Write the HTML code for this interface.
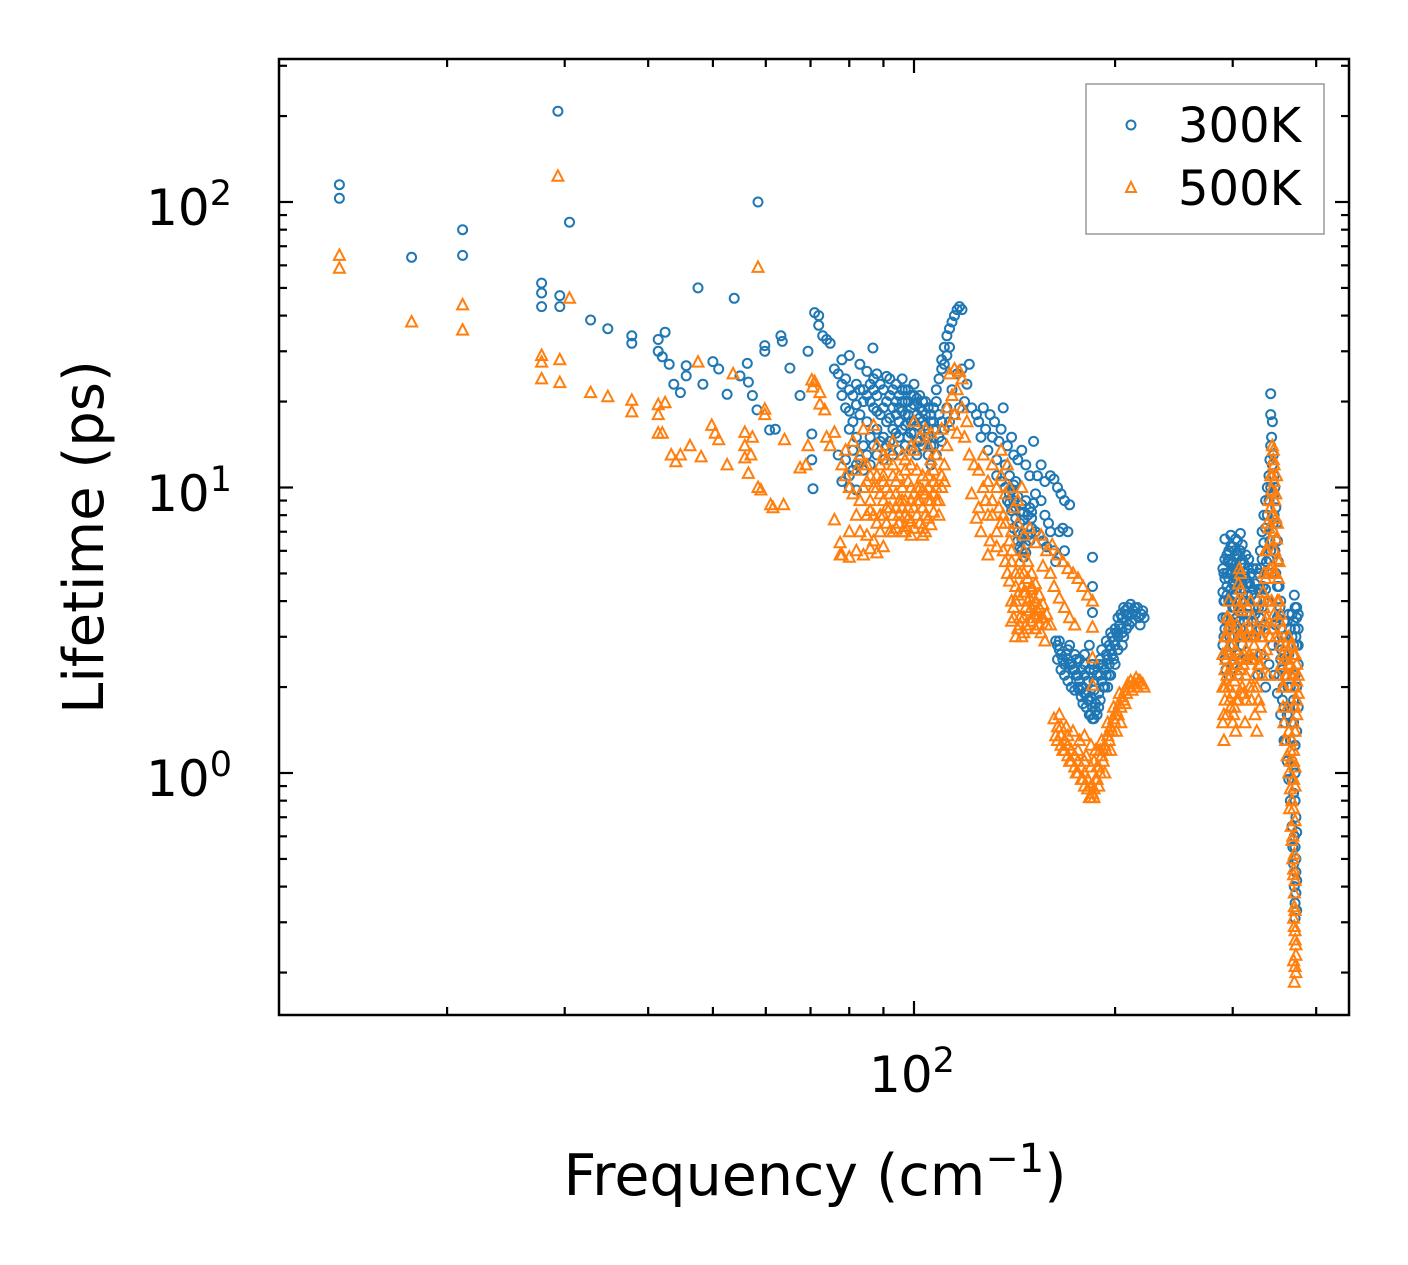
<!DOCTYPE html>
<html><head><meta charset="utf-8"><style>
html,body{margin:0;padding:0;background:#fff;}
svg{display:block;font-family:"DejaVu Sans","Liberation Sans",sans-serif;}
</style></head><body>
<svg id="chart" width="1408" height="1265" viewBox="0 0 1408 1265" xmlns="http://www.w3.org/2000/svg">
<rect x="0" y="0" width="1408" height="1265" fill="#fff"/>
<g id="marks"></g>
<g id="ticks"></g>
<rect x="279" y="59" width="1070" height="956" fill="none" stroke="#000" stroke-width="2.5"/>
<text x="232" y="225" font-size="50" text-anchor="end">10<tspan dy="-20" font-size="35">2</tspan></text>
<text x="232" y="511" font-size="50" text-anchor="end">10<tspan dy="-20" font-size="35">1</tspan></text>
<text x="232" y="796" font-size="50" text-anchor="end">10<tspan dy="-20" font-size="35">0</tspan></text>
<text x="912" y="1092" font-size="50" text-anchor="middle">10<tspan dy="-20" font-size="35">2</tspan></text>
<text x="0" y="0" font-size="56" text-anchor="middle" transform="translate(103,537) rotate(-90)">Lifetime (ps)</text>
<text x="815" y="1195" font-size="57" text-anchor="middle">Frequency (cm<tspan dy="-23" font-size="40">−1</tspan><tspan dy="23">)</tspan></text>
<g>
<rect x="1086" y="84" width="238" height="150" fill="#fff" stroke="#999" stroke-width="1.5"/>
<circle cx="1131" cy="125" r="4.5" fill="none" stroke="#1f77b4" stroke-width="2"/>
<text x="1178" y="142" font-size="48">300K</text>
<path d="M1131,182 L1136,192 L1126,192 Z" fill="none" stroke="#ff7f0e" stroke-width="2"/>
<text x="1178" y="205" font-size="48">500K</text>
</g>
</svg>
<script>
const s300 = [[13.8,115],[13.8,103],[17.7,64],[21.1,80],[21.1,65],[27.7,52],[27.7,48],[27.7,43],[29.3,208],[29.5,47],[29.5,43],[30.5,85],[32.8,38.6],[34.8,36],[37.8,34],[37.8,32],[41.4,33],[41.4,30],[42.4,35],[42,28.7],[43,27],[43.7,23],[44.7,21.5],[45.6,24.6],[45.6,26.7],[47.5,50],[48.3,23],[50,27.6],[51,26],[52.5,21.2],[53.8,46],[54.9,24.6],[56.3,27.2],[56.5,23.4],[57.3,21],[58.2,18.7],[59.8,31.4],[59.8,30],[58.4,100],[60.8,15.9],[62,16],[63.2,34],[63.5,32.5],[65.2,26.2],[67.5,21],[69.4,30],[71,41],[72,37],[73,34],[70.3,15.4],[70.3,12.5],[70.6,9.9],[72,40],[74,33],[74.9,32],
[76,26],[77,25],[78,23],[79,24],[80,22],[81,21],[82,23],[83,22],[84,20],[85,21],[86,23],[87,22],[88,21],[89,23],[90,22],[91,20],[92,24],[93,22],[94,23],[95,21],[96,24],[97,22],[98,20],[99,19],[100,21],[101,18],[102,19],[103,17],[104,18],[105,16],[106,17],[100,23],[97,18],[95,17],[93,19],[91,17],[89,18],[87,19],[85,17],[83,18],[81,17],[79,19],[80,16],[82,15],[84,14],[86,15],[88,16],[90,15],[92,14.5],[94,15.5],[96,16],[98,15],[100,15.5],[102,14.5],[104,15],[106,14],[103,20],[99,17],[101,16.5],[97,14],[95,13.5],[93,13],[90,12.5],[88,13],[86,12],[84,11.5],[82,12],[80,11],[78,10.5],[80,10],[82,9.8],[79,12.5],[77,13],[81,13.5],[86.8,30.8],[78,28],[80,29],[83,27],[85,25.5],[88,25],[91,24.5],[87,24],
[108,22],[109,24],[110,26],[110,28],[111,31],[112,34],[113,36],[114,38],[115,40],[116,42],[117,43],[118,42],[112,29],[111,27],[113,31],[108,20],[107,19],[109,18],[110,17],[112,19],[114,22],[116,25],[118,26],[120,23],[121,27],[119,20],[117,19],[115,18],[113,17],[111,16],[109,15],[107,14],[105,13],[110,14.5],[108,13],[106,12],
[122,19],[124,18],[125,17],[127,19],[128,16],[130,18],[131,15],[132,17],[134,14.5],[135,16],[136,19],[138,14],[140,15],[141,13],[143,12.5],[145,13.5],[147,12],[149,11],[151,14.5],[153,11],[155,12],[157,10.5],[160,11],[162,10.7],[164,10],[166,9.5],[168,9],[171,8.7],[126,15],[129,13.5],[133,12.5],[137,12],[139,11],[142,10.5],
[137,10],[139,9.5],[141,9],[143,9.3],[145,8.7],[147,9],[149,8.5],[151,8.8],[140,8.3],[142,7.8],[144,7.5],[146,7.7],[148,7.3],[150,7.8],[143,7],[145,6.6],[147,6.3],[145,6],[146,5.7],[152,7],[154,6.8],[156,6.5],[158,6.2],[160,7],[162,6],[163,5.5],[165,7],[167,7.2],[168,6],[170,7],[185,5.7],[185,4.5],[185,3.65],
[163,2.9],[165,2.7],[167,2.5],[169,2.6],[171,2.4],[173,2.3],[175,2.2],[177,2.1],[179,2.0],[181,1.9],[183,1.8],[185,1.7],[187,1.75],[189,1.9],[191,2.1],[193,2.3],[195,2.5],[197,2.7],[199,2.9],[201,3.1],[203,3.3],[205,3.5],[207,3.7],[209,3.8],[211,3.9],[213,3.7],[215,3.6],[217,3.5],[219,3.6],[221,3.5],[164,2.5],[166,2.3],[168,2.2],[170,2.1],[172,2.0],[174,1.95],[176,2.2],[178,2.3],[180,2.2],[182,2.1],[184,1.6],[186,1.55],[188,1.6],[190,1.8],[192,2.0],[194,2.2],[196,2.4],[198,2.6],[200,2.8],[202,3.0],[204,3.2],[206,3.0],[208,3.4],[210,3.6],[212,3.4],[214,3.8],[205,2.8],[200,2.4],[195,2.0],[190,2.5],[185,2.4],[180,2.6],[175,2.5],[170,2.7],[165,2.9],[183,2.8],[178,1.85],[186,1.95],[197,2.2],[208,3.2],
[291,3],[291,4],[291,5],[292,2.5],[293,3.5],[294,4.5],[295,5.5],[296,6],[297,3],[298,4],[299,5],[300,6.2],[301,2.8],[302,3.8],[303,4.8],[304,5.8],[305,6.5],[306,2.6],[307,3.4],[308,4.4],[309,5.4],[310,6.3],[311,3],[312,4],[313,5],[314,5.8],[315,3.6],[316,4.6],[317,5.6],[318,3.2],[320,4.2],[322,5.2],[293,2.3],[296,2.2],[300,2.4],[305,2.2],[310,2.5],[292,6.6],[298,6.8],[303,6.6],[308,6.9],
[325,3],[326,4],[328,5],[330,6],[332,7],[334,8],[336,9],[338,10],[340,11],[341,12.5],[342,14],[343,15],[344,17],[342,18],[342,21.3],[345,13],[346,11],[347,10],[348,8.5],[349,7.5],[350,6.5],[351,5.5],[352,4.5],[353,3.8],[354,3.2],[355,2.7],[356,2.3],[357,2],[358,1.7],[359,1.5],[360,1.3],[362,1.1],[364,0.95],[366,0.8],[368,0.65],[369,0.55],[370,0.48],[371,0.4],[372,0.35],[372,0.31],[323,2.5],[327,2.2],[331,2.6],[335,3.3],[339,4],[343,5],[347,6],[329,3.5],[333,4.5],[337,5.5],[341,6.5],[345,7.5],[336,2],[340,2.4],[344,2.8],[348,3.3],[352,2.2],[356,1.8],[360,2.2],[364,2.6],[368,3],[370,3.4],[372,3.8],[374,3.5],[376,3.2],[374,2.8],[376,2.4],[374,2],[376,1.7],[370,1.5],[366,1.3],[368,1.1],[372,1.0],[370,0.85],[373,0.7],[371,0.6],[373,0.5],[374,0.42],[362,1.6],[366,2],[358,1.3],[354,1.6],[350,1.9],[346,2.2],[371,4.2],[373,3.0]];

const s300Dense = [[95,19],[96,18.5],[97,20],[98,18],[99,21],[100,19.5],[101,20.5],[102,17.5],[103,18.5],[104,16.5],[105,19],[106,18],[107,16],[96,20],[98,22],[100,17],[102,21],[104,20],[94,18],[92,17.5],[90,19],[88,18.5],[86,20],[84,22],[82,19.5],[80,18.5],[78,21],[93,16],[91,14],[89,14.5],[87,14],[85,13],[83,12.5],[81,11.5],[99,13.5],[101,13],[103,14],[105,15],[107,17],[92,21],[94,20],[96,22],[97,16.5],[99,15.5],[101,14.5],[95,15],
[138,9],[140,9.8],[142,8.5],[144,8.2],[146,8.2],[148,8],[150,8.2],[141,7.2],[143,6.5],[144,6.2],[146,6.9],[148,6.8],[149,6.5],[147,5.9],[150,7.2],[139,8.8],[141,10.2],[135,10.5],[133,11],[152,9.5],[155,9],[157,8],[159,7.5],
[164,2.8],[166,2.6],[168,2.4],[170,2.5],[172,2.4],[174,2.3],[176,2.0],[178,2.0],[180,1.9],[182,1.8],[184,1.85],[186,2.1],[188,2.2],[190,2.2],[192,2.4],[194,2.6],[196,2.8],[198,3.0],[200,3.2],[202,3.5],[204,3.6],[206,3.8],[208,3.6],[210,3.3],[212,3.6],[216,3.8],[218,3.3],[220,3.7],[181,1.7],[183,1.6],[185,1.55],[187,1.65],[189,1.7],[179,1.75],[177,1.95],[193,2.0],[196,2.2],[199,2.5],[202,2.7],[205,3.1],[171,2.8],[174,2.6],[177,2.5],[180,2.4],[183,2.3],[186,2.3],[189,2.4],[191,2.7],[194,2.9],[197,3.1],
[290,2.8],[290,3.5],[290,4.3],[290,5.2],[292,3.2],[292,4],[292,4.8],[292,5.6],[294,2.6],[294,3.4],[294,4.2],[294,5],[294,5.8],[296,3.2],[296,4],[296,4.8],[296,5.6],[298,2.6],[298,3.4],[298,4.4],[298,5.4],[298,6.2],[300,3],[300,3.8],[300,4.6],[300,5.4],[302,3.2],[302,4.2],[302,5.2],[302,6],[304,2.6],[304,3.5],[304,4.4],[304,5.2],[306,3],[306,3.8],[306,4.8],[306,5.8],[308,3.2],[308,4],[308,5],[308,6],[310,2.8],[310,3.6],[310,4.6],[310,5.6],[312,3.4],[312,4.4],[312,5.4],[314,3],[314,4],[314,4.8],[316,3.4],[316,4.2],[316,5.2],[318,3.8],[318,4.6],[320,3],[320,3.6],[320,5],[322,3.4],[322,4.4],[324,3.6],[324,4.6],[326,3.2],[326,5.2],[328,3.8],[328,4.4],[330,3.2],[330,4.4],[330,5.2],[332,3.8],[332,5.6],[334,4],[334,6.4],[336,4.4],[336,7.2],[338,5],[338,8],[340,5.6],[340,9],[342,6],[342,10],[344,7],[344,12],[346,8],[346,9.5],[348,6.5],[348,5],[350,4.5],[350,3.5],[352,3.6],[352,2.8],[354,2.5],[354,4],[356,3],[358,2.6],[358,3.4],[360,3],[362,3.4],[364,3.6],[366,3.2],[368,3.6],[370,2.8],[372,3.2],[374,3.8],[376,3.6],[376,2.8],[372,2.2],[370,1.8],[374,1.4],[372,1.25],[370,1.05],[368,0.95],[372,0.8],[374,0.62],[372,0.55],[373,0.45],[373,0.38],[374,0.33],[361,2.5],[363,2],[365,1.7],[367,1.5]];

const s500 = [[13.8,65],[13.8,58.6],[17.7,38],[21.1,43.6],[21.1,35.6],[27.7,29],[27.7,27.5],[27.7,24],[29.3,123],[29.5,28],[29.5,23.3],[30.5,46],[32.8,21.5],[34.8,20.8],[37.8,20.2],[37.8,18.4],[41.4,19.5],[41.4,18],[41.4,15.5],[42,15.5],[42.4,19.8],[43.3,13],[44,12.3],[44.7,13],[46.2,14],[47.5,27.5],[48,12.8],[49.8,16.5],[50.4,15.5],[51,14.7],[52.5,12],[53.6,25],[55.8,12.7],[55.8,15.6],[55.8,14],[56.5,11.2],[57,13],[57.3,15],[58.4,10],[59,9.8],[58.4,59],[59.8,18],[59.8,18.8],[61,8.7],[61.5,8.5],[63.8,8.7],[64,14.7],[67.5,11.7],[68.9,12],[69.4,14],[70.3,23.8],[70.5,22.5],[71,23.5],[72.3,21.5],[72.3,19.6],[73.5,18.7],[74,15],[74.9,14],[76,15.6],[76,7.7],[77.5,6.4],[77.5,5.8],
[78,12],[79,11],[80,10],[81,9.5],[82,11.5],[83,13],[84,12],[85,10.5],[86,9],[87,8],[88,7.5],[89,9.5],[90,11],[91,12.5],[92,13.5],[93,11],[94,9.5],[95,8],[96,7],[97,9],[98,10.5],[99,12],[100,13.5],[101,11.5],[102,10],[103,8.5],[104,9.5],[105,11],[106,12.5],[107,10.5],[108,9],[109,8],[110,10],[111,12],[112,14],[88,14],[90,13],[93,14.5],[96,13],[99,14],[102,15],[105,14],[108,13],[85,6.8],[87,6.5],[89,7],[91,7.5],[93,7],[95,7.5],[97,7.3],[99,7.6],[101,8],[103,7.2],[105,7.8],[107,8.2],[78,5.8],[80,5.7],[82,6],[84,5.8],[86,6.1],[88,5.9],[90,6.2],[83,7],[86,8.3],[90,9],[92,8.5],[94,10.5],[97,11.5],[100,9.5],[96,10],[91,10],[89,12],[82,8],[80,7],[79,13.5],[81,14.5],[84,16],[87,16.5],[100,17],[104,16],[106,15.5],
[113,25],[115,26],[117,25.5],[118,24],[116,22],[114,21],[112,19],[115,18],[118,19],[120,17],[110,16],[113,16.5],[116,15.5],[119,15],
[121,13],[123,12],[125,11.5],[127,13],[129,10.5],[131,12],[133,10],[135,11],[137,9.5],[139,10],[141,8.5],[143,9],[122,9.5],[125,8.5],[128,9],[131,8],[134,8.5],[137,7.5],[140,7],[143,7.5],[146,6.8],[149,7.2],[152,6.4],[155,6.8],[158,6],[161,6.3],[164,5.8],[167,5.5],[170,5.2],[173,5],[176,4.8],[179,4.5],[182,4.2],[185,4],[146,6],[148,5.5],[150,5],[152,4.6],[154,4.2],[156,3.9],[158,3.6],[160,3.3],[144,5],[142,4.5],[140,4],[141,3.5],[143,3.2],[145,3],[147,3.3],[149,3.7],[151,4.1],[153,3.5],[155,3.1],[157,2.9],[139,4.7],[146,4.3],[150,4.4],[147,3.8],[162,4.5],[165,4.1],[168,3.8],[171,3.5],[174,3.3],[160,5],[156,5.3],[126,7],[130,6.5],[133,6.2],[136,6],[129,5.8],[124,7.8],[127,10],[135,13.5],[138,12],[145,10],[185,3.24],[185,2.53],[185,2.03],
[162,1.55],[164,1.45],[166,1.35],[168,1.3],[170,1.25],[172,1.2],[174,1.15],[176,1.1],[178,1.05],[180,1.0],[182,0.95],[184,0.9],[186,0.88],[183,0.82],[185,0.85],[187,0.95],[189,1.05],[191,1.15],[193,1.25],[195,1.35],[197,1.45],[199,1.55],[201,1.65],[203,1.75],[205,1.85],[207,1.95],[209,2.05],[211,2.1],[213,2.05],[215,2.15],[217,2.1],[219,2.05],[221,2.0],[163,1.35],[167,1.2],[171,1.1],[175,1.0],[179,0.95],[181,1.15],[177,1.3],[173,1.4],[169,1.45],[165,1.6],[187,1.2],[191,1.3],[195,1.5],[199,1.7],[203,1.9],[207,1.75],[197,1.2],[193,1.0],[189,0.9],[201,1.4],[184,1.25],[180,1.35],
[291,1.3],[291,1.6],[292,2],[293,2.5],[294,3],[295,3.5],[296,4],[297,3.3],[298,2.8],[299,2.3],[300,1.9],[301,1.6],[302,2.1],[303,2.7],[304,3.3],[305,4],[306,4.6],[307,5.2],[308,4.4],[309,3.7],[310,3],[311,2.4],[312,1.9],[313,1.5],[314,2.2],[315,3],[316,3.8],[318,3.2],[320,2.5],[322,2],[324,1.6],[326,1.4],[328,1.8],[330,2.4],[332,3],[334,3.8],[336,4.8],[338,6],[340,7.2],[342,8.5],[343,9.8],[344,11],[345,12.5],[345,13.5],[346,10.5],[347,9],[348,7.8],[349,6.6],[350,5.6],[351,4.8],[352,4],[353,3.4],[354,2.8],[355,2.4],[356,2],[357,1.7],[358,1.5],[333,4.3],[335,3.4],[337,2.7],[339,2.2],[341,3],[343,4],[345,5],[347,6],[341,5.2],[339,4],[337,3.5],[327,2.6],[325,3.2],[323,2.8],[319,4],[321,3.5],[294,2.2],[297,1.8],[300,1.5],[303,1.4],[306,1.8],[309,1.9],[312,2.6],[360,1.3],[362,1.15],[364,1.0],[366,0.88],[365,0.75],[367,0.65],[368,0.58],[369,0.5],[370,0.44],[371,0.38],[372,0.33],[371,0.29],[372,0.26],[373,0.23],[372,0.21],[371,0.185],[373,0.2],[360,2.2],[362,2.6],[364,3],[366,2.4],[368,2.8],[370,2.3],[372,2.6],[374,2.1],[376,1.9],[374,1.6],[372,1.4],[370,1.2],[372,1.05],[370,0.95],[368,0.8],[366,1.1],[364,1.4],[362,1.7],[358,2.0],[356,2.6],[350,2.2],[348,3],[346,3.6],[344,3.2],[349,11],[344,14]];

const s500Dense = [[84,10],[86,11],[88,10],[90,10.5],[92,9.5],[94,8.5],[96,9],[98,8.5],[100,8.5],[102,9],[104,8],[106,9],[108,10],[110,11],[95,11],[93,12],[97,12.5],[99,10],[101,10],[103,11],[105,10],[107,11.5],[109,9],[111,10.5],[89,8],[91,8.5],[93,8],[95,9],[97,8],[99,9],[101,9],[103,9.8],[105,9],[107,9.5],[92,7],[94,7.2],[96,8.5],[98,7.8],[100,7.2],[102,7.5],[104,7],[106,7.4],[85,8],[83,9],[87,10],[85,12],[88,11],[90,8],[97,7],[99,6.8],[103,6.8],
[140,5.5],[142,5],[144,5.5],[146,5],[148,4.8],[150,4.5],[152,4],[154,3.8],[156,3.5],[158,3.3],[142,4],[144,3.5],[146,3.5],[148,4],[150,3.8],[152,3.2],[154,3.3],[142,3],[144,3.3],[146,3.1],[148,3.2],[150,3.4],[140,3.4],[141,3.8],[143,4.2],[145,4.5],[147,4.3],[149,4.1],[151,3.6],[153,3.7],[155,3.5],[138,5],[140,6],[137,5.5],[139,6.5],[135,7.5],[133,7],[136,8],[131,9],[129,8],
[164,1.3],[166,1.25],[168,1.2],[170,1.15],[172,1.1],[174,1.05],[176,1.0],[178,0.95],[180,0.9],[182,0.88],[184,0.82],[186,0.82],[188,0.95],[190,1.0],[192,1.1],[194,1.2],[196,1.3],[198,1.4],[200,1.5],[202,1.6],[204,1.7],[206,1.8],[208,1.9],[210,2.0],[212,1.95],[214,2.05],[216,2.0],[218,2.1],[220,2.05],[176,1.2],[180,1.1],[184,1.05],[188,1.05],[192,1.2],[196,1.4],[200,1.6],[204,1.5],[170,1.35],[166,1.45],[186,1.1],[190,1.2],
[290,1.5],[290,2],[290,2.6],[292,1.8],[292,2.3],[292,3],[294,1.6],[294,2.7],[294,3.5],[296,2],[296,2.6],[296,3.2],[298,1.7],[298,2.2],[298,3.4],[300,2.5],[300,3],[302,1.7],[302,2.5],[304,1.8],[304,2.4],[306,2.2],[306,3],[306,3.8],[308,2.3],[308,3],[308,5],[310,2],[310,4],[312,3.2],[314,1.8],[314,2.7],[316,2.5],[318,2],[318,2.6],[320,1.8],[320,3],[322,2.5],[324,2.2],[324,3],[326,2],[328,2.4],[330,1.7],[330,3],[332,2.2],[332,4],[334,2.6],[334,5],[336,3.2],[336,6],[338,4],[338,7.5],[340,5],[340,9],[342,6.5],[342,11],[344,8],[346,7],[346,12],[348,5],[348,9.5],[350,4],[350,7.5],[352,3],[352,5.5],[354,3.6],[356,3.2],[358,2.5],[360,2.8],[362,2.2],[364,2.4],[366,2.8],[368,2.2],[370,2.6],[372,2],[374,2.4],[376,2.2],[374,1.8],[372,1.7],[370,1.5],[368,1.3],[366,1.2],[370,1.1],[372,0.9],[370,0.75],[372,0.68],[369,0.6],[371,0.52],[370,0.46],[372,0.42],[371,0.34],[370,0.31],[372,0.28],[373,0.25],[370,0.22]];

const xMajorTicks = [100];
const xMinorTicks = [20,30,40,50,60,70,80,90,200,300,400];
const yMajorTicks = [1,10,100];
const yMinorTicks = [0.2,0.3,0.4,0.5,0.6,0.7,0.8,0.9,2,3,4,5,6,7,8,9,20,30,40,50,60,70,80,90,200,300];

const X0=279, X1=1349, Y0=59, Y1=1015;
function xs(f){ return 914 + 668*Math.log10(f/100); }
function ys(t){ return 773 - 285.5*Math.log10(t); }
const NS='http://www.w3.org/2000/svg';
const marks=document.getElementById('marks');
const ticks=document.getElementById('ticks');

s300.concat(s300Dense).forEach(function(p){
  const c=document.createElementNS(NS,'circle');
  c.setAttribute('cx',xs(p[0]).toFixed(1));
  c.setAttribute('cy',ys(p[1]).toFixed(1));
  c.setAttribute('r','4.5');
  c.setAttribute('fill','none');
  c.setAttribute('stroke','#1f77b4');
  c.setAttribute('stroke-width','2');
  
  
  marks.appendChild(c);
});
s500.concat(s500Dense).forEach(function(p){
  const x=xs(p[0]), y=ys(p[1]);
  const t=document.createElementNS(NS,'path');
  t.setAttribute('d','M'+x.toFixed(1)+','+(y-6).toFixed(1)+' L'+(x+5.5).toFixed(1)+','+(y+4.5).toFixed(1)+' L'+(x-5.5).toFixed(1)+','+(y+4.5).toFixed(1)+' Z');
  t.setAttribute('fill','none');
  t.setAttribute('stroke','#ff7f0e');
  t.setAttribute('stroke-width','2');
  
  
  marks.appendChild(t);
});

function line(x1,y1,x2,y2,name){
  const l=document.createElementNS(NS,'line');
  l.setAttribute('x1',x1);l.setAttribute('y1',y1);l.setAttribute('x2',x2);l.setAttribute('y2',y2);
  l.setAttribute('stroke','#000');l.setAttribute('stroke-width','2.2');
  
  
  ticks.appendChild(l);
}
xMajorTicks.forEach(function(v){const x=xs(v);line(x,Y1,x,Y1-14,'x-major-tick');line(x,Y0,x,Y0+14,'x-major-tick-top');});
xMinorTicks.forEach(function(v){const x=xs(v);line(x,Y1,x,Y1-8,'x-minor-tick');line(x,Y0,x,Y0+8,'x-minor-tick-top');});
yMajorTicks.forEach(function(v){const y=ys(v);line(X0,y,X0+14,y,'y-major-tick');line(X1,y,X1-14,y,'y-major-tick-right');});
yMinorTicks.forEach(function(v){const y=ys(v);if(y>Y0&&y<Y1){line(X0,y,X0+8,y,'y-minor-tick');line(X1,y,X1-8,y,'y-minor-tick-right');}});
</script>
</body></html>
